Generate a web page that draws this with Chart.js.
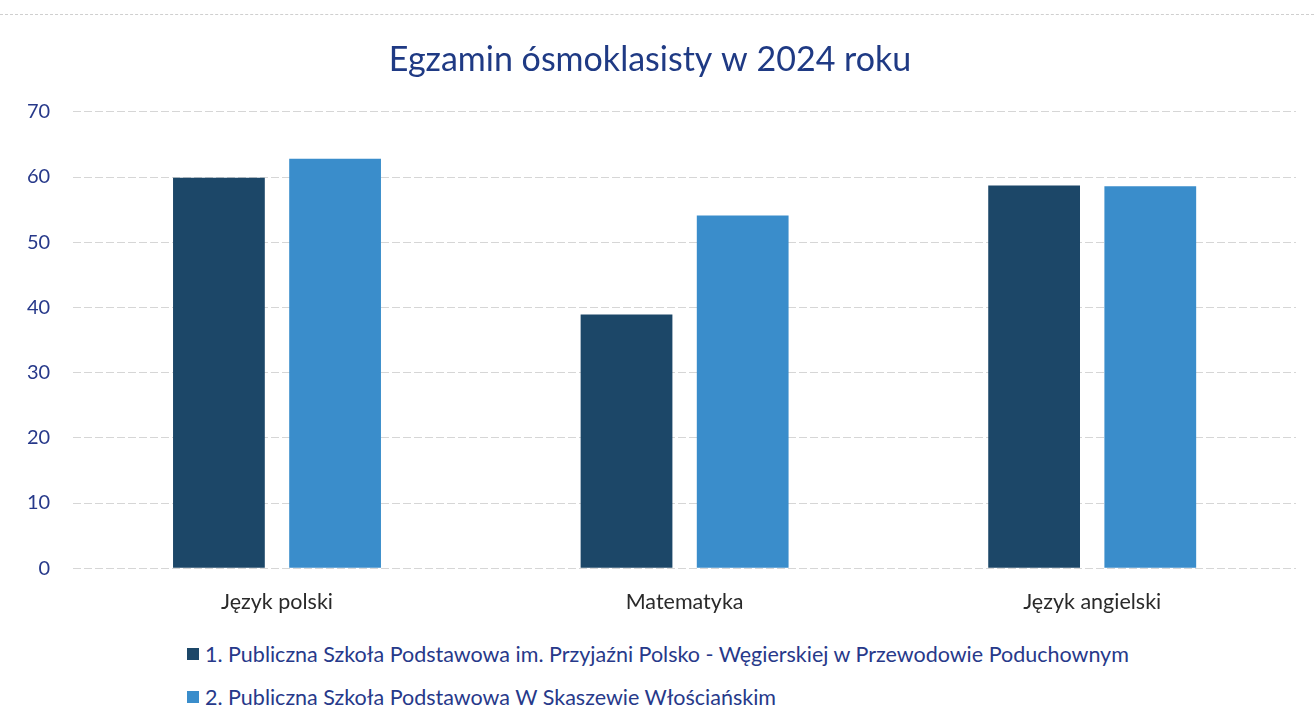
<!DOCTYPE html>
<html lang="pl">
<head>
<meta charset="utf-8">
<title>Egzamin ósmoklasisty w 2024 roku</title>
<script src="https://cdn.jsdelivr.net/npm/chart.js@4.4.1/dist/chart.umd.min.js"></script>
<style>
  html, body { margin: 0; padding: 0; background: #fff; overflow: hidden; }
  #wrap { position: relative; width: 1314px; height: 726px; }
  #topline { position: absolute; left: 0; top: 14px; width: 1314px; border-top: 1px dashed #cfcfcf; }
  #chart-box { position: absolute; left: 0; top: 0; width: 1314px; height: 634px; }
  #legend { position: absolute; left: 187px; top: 640px; margin: 0; padding: 0; list-style: none;
            font-family: Lato, "Open Sans", sans-serif; font-size: 21.5px; color: #27398a; }
  #legend li { display: flex; align-items: center; height: 28px; margin-bottom: 15px; white-space: nowrap; }
  #legend .sw { display: inline-block; width: 12px; height: 12px; margin-right: 6px; }
</style>
</head>
<body>
<div id="wrap">
  <div id="topline"></div>
  <div id="chart-box"><canvas id="chart-egzamin"></canvas></div>
  <ul id="legend"></ul>
</div>
<script>
const kategorie = ['Język polski', 'Matematyka', 'Język angielski'];
const szkola1 = [59.9, 38.9, 58.7];
const szkola2 = [62.8, 54.1, 58.6];
const nazwySzkol = [
  '1. Publiczna Szkoła Podstawowa im. Przyjaźni Polsko - Węgierskiej w Przewodowie Poduchownym',
  '2. Publiczna Szkoła Podstawowa W Skaszewie Włościańskim'
];
const kolory = ['#1c4768', '#3a8dcb'];

const granat = '#27398a';

// legenda w HTML, wyrównana do lewej jak w oryginale
const htmlLegend = {
  id: 'htmlLegend',
  afterUpdate(chart) {
    const ul = document.getElementById('legend');
    ul.innerHTML = '';
    chart.data.datasets.forEach((ds) => {
      const li = document.createElement('li');
      const sw = document.createElement('span');
      sw.className = 'sw';
      sw.style.background = ds.backgroundColor;
      li.appendChild(sw);
      li.appendChild(document.createTextNode(ds.label));
      ul.appendChild(li);
    });
  }
};

const dataEgzamin = {
  labels: kategorie,
  datasets: [
    { label: nazwySzkol[0], data: szkola1, backgroundColor: kolory[0] },
    { label: nazwySzkol[1], data: szkola2, backgroundColor: kolory[1] }
  ]
};

const configEgzamin = {
  type: 'bar',
  data: dataEgzamin,
  options: {
    responsive: true,
    maintainAspectRatio: false,
    animation: false,
    datasets: {
      bar: { categoryPercentage: 0.57, barPercentage: 0.79 }
    },
    layout: { padding: { left: 4, right: 18, top: 24, bottom: 6 } },
    plugins: {
      legend: { display: false },
      tooltip: { enabled: false },
      title: {
        display: true,
        text: 'Egzamin ósmoklasisty w 2024 roku',
        color: '#1f3a84',
        font: { family: 'Lato', size: 34, weight: 'normal' },
        padding: { top: 16, bottom: 31 }
      }
    },
    scales: {
      x: {
        grid: { display: false },
        border: { display: false },
        ticks: { color: '#2a2a2a', padding: 13, font: { family: 'Lato', size: 21.5 } }
      },
      y: {
        min: 0,
        max: 70,
        ticks: { stepSize: 10, color: granat, padding: 23, font: { family: 'Lato', size: 20 } },
        grid: { color: '#d6d6d6', drawTicks: false },
        border: { display: false, dash: [8, 3] }
      }
    }
  },
  plugins: [htmlLegend]
};

const myChartEgzamin = new Chart(
  document.getElementById('chart-egzamin'),
  configEgzamin
);
</script>
</body>
</html>
